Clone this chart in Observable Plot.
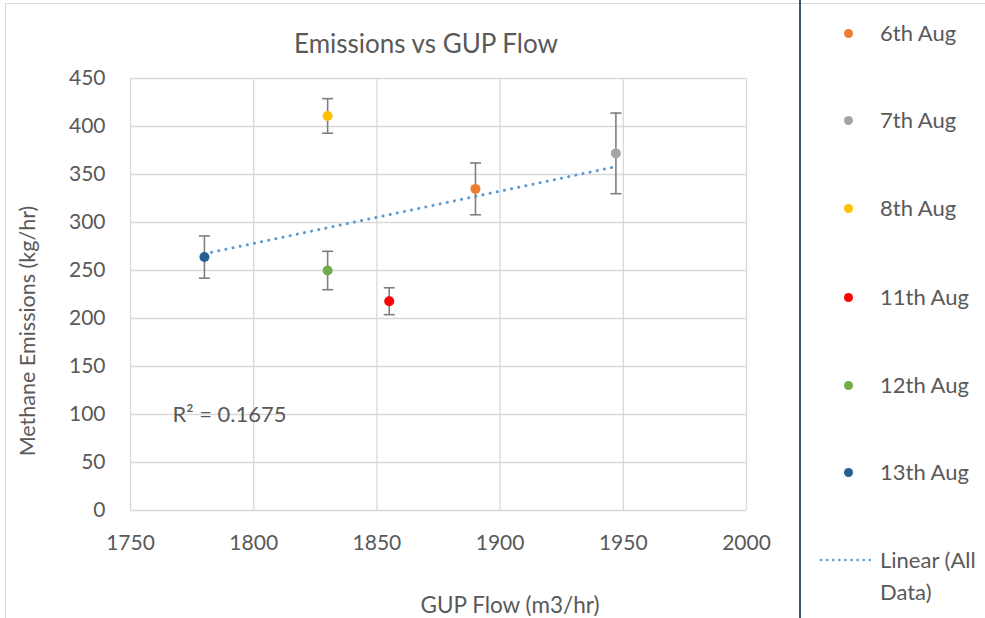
<!DOCTYPE html>
<html>
<head>
<meta charset="utf-8">
<script src="https://cdn.jsdelivr.net/npm/d3@7"></script>
<script src="https://cdn.jsdelivr.net/npm/@observablehq/plot@0.6"></script>
<style>
  html, body { margin: 0; padding: 0; background: white; }
  #wrap { position: relative; width: 985px; height: 618px; font-family: Lato, "Open Sans", sans-serif; color: #595959; overflow: hidden; }
  #chart { position: absolute; left: 0; top: 0; }
  .abs { position: absolute; white-space: nowrap; }
  #border { position: absolute; left: 5px; top: 3px; width: 990px; height: 700px; border: 1px solid #d9d9d9; box-sizing: border-box; }
  #sep { position: absolute; left: 799px; top: 0; width: 1.5px; height: 618px; background: #44546a; }
  .leg { position: absolute; left: 880px; font-size: 22px; line-height: 26px; transform: translateY(-50%); white-space: nowrap; }
</style>
</head>
<body>
<div id="wrap">
  <div id="border"></div>
  <div id="chart"></div>
  <div id="sep"></div>
</div>
<script>
const dates = ["6th Aug", "7th Aug", "8th Aug", "11th Aug", "12th Aug", "13th Aug"];
const flow = [1890, 1947, 1830, 1855, 1830, 1780];
const emissions = [335, 372, 411, 218, 250, 264];
const errors = [27, 42, 18, 14, 20, 22];
const colors = ["#ED7D31", "#A5A5A5", "#FFC000", "#FF0000", "#70AD47", "#255E91"];
const xTicks = [1750, 1800, 1850, 1900, 1950, 2000];
const yTicks = [0, 50, 100, 150, 200, 250, 300, 350, 400, 450];
const r2Label = "R² = 0.1675";
const title = "Emissions vs GUP Flow";
const xLabel = "GUP Flow (m3/hr)";
const yLabel = "Methane Emissions (kg/hr)";
const trendLabel = ["Linear (All", "Data)"];

const data = dates.map((d, i) => ({date: d, x: flow[i], y: emissions[i], e: errors[i]}));

const capSymbol = {
  draw(context, size) {
    const w = Math.sqrt(size / Math.PI);
    context.moveTo(-w, 0);
    context.lineTo(w, 0);
  }
};

const chart = Plot.plot({
  width: 985,
  height: 618,
  marginLeft: 130,
  marginRight: 239,
  marginTop: 78,
  marginBottom: 108,
  style: {fontFamily: "Lato, 'Open Sans', sans-serif", fontSize: "21px", color: "#595959", background: "transparent"},
  x: {domain: [1750, 2000], label: null},
  y: {domain: [0, 450], label: null},
  color: {domain: dates, range: colors},
  marks: [
    Plot.gridX(xTicks, {stroke: "#d9d9d9", strokeOpacity: 1, strokeWidth: 1.3}),
    Plot.gridY(yTicks, {stroke: "#d9d9d9", strokeOpacity: 1, strokeWidth: 1.3}),
    Plot.axisX(xTicks, {tickSize: 0, tickPadding: 25, label: null, tickFormat: d3.format("d"), fill: "#595959", fontSize: 21}),
    Plot.axisY(yTicks, {tickSize: 0, tickPadding: 25, label: null, tickFormat: d3.format("d"), fill: "#595959", fontSize: 21}),
    Plot.linearRegressionY(data, {x: "x", y: "y", ci: 0, stroke: "#5B9BD5", strokeWidth: 3, strokeDasharray: "0.1 7.2", strokeLinecap: "round"}),
    Plot.ruleX(data, {x: "x", y1: d => d.y - d.e, y2: d => d.y + d.e, stroke: "#7f7f7f", strokeWidth: 1.6}),
    Plot.dot(data, {x: "x", y: d => d.y - d.e, symbol: capSymbol, r: 5.5, stroke: "#7f7f7f", strokeWidth: 1.6, fill: "none"}),
    Plot.dot(data, {x: "x", y: d => d.y + d.e, symbol: capSymbol, r: 5.5, stroke: "#7f7f7f", strokeWidth: 1.6, fill: "none"}),
    Plot.dot(data, {x: "x", y: "y", fill: "date", r: 5, stroke: "none"}),
    Plot.text([r2Label], {x: 1767, y: 100, text: d => d, textAnchor: "start", fill: "#595959", fontSize: 22})
  ]
});
document.getElementById("chart").appendChild(chart);

const wrap = document.getElementById("wrap");
function addDiv(text, css) {
  const el = document.createElement("div");
  el.className = "abs";
  el.textContent = text;
  Object.assign(el.style, css);
  wrap.appendChild(el);
  return el;
}
addDiv(title, {left: "226px", width: "400px", textAlign: "center", top: "43px", transform: "translateY(-50%)", fontSize: "26px"});
addDiv(xLabel, {left: "310px", width: "400px", textAlign: "center", top: "604px", transform: "translateY(-50%)", fontSize: "22.5px"});
addDiv(yLabel, {left: "27px", top: "331px", transform: "translate(-50%,-50%) rotate(-90deg)", fontSize: "21.5px"});

// legend
const rowY = [33, 120, 208, 297, 385, 472];
dates.forEach((d, i) => {
  const dot = document.createElement("div");
  Object.assign(dot.style, {position: "absolute", left: (848 - 4.5) + "px", top: (rowY[i] - 4.5) + "px", width: "9px", height: "9px", borderRadius: "50%", background: colors[i]});
  wrap.appendChild(dot);
  const t = document.createElement("div");
  t.className = "leg";
  t.style.top = rowY[i] + "px";
  t.textContent = d;
  wrap.appendChild(t);
});
const ns = "http://www.w3.org/2000/svg";
const ls = document.createElementNS(ns, "svg");
ls.setAttribute("width", "60"); ls.setAttribute("height", "10");
Object.assign(ls.style, {position: "absolute", left: "815px", top: "555px"});
const ln = document.createElementNS(ns, "line");
ln.setAttribute("x1", "6"); ln.setAttribute("x2", "55"); ln.setAttribute("y1", "5"); ln.setAttribute("y2", "5");
ln.setAttribute("stroke", "#5B9BD5"); ln.setAttribute("stroke-width", "2.5");
ln.setAttribute("stroke-dasharray", "0.1 6"); ln.setAttribute("stroke-linecap", "round");
ls.appendChild(ln);
wrap.appendChild(ls);
trendLabel.forEach((t, i) => {
  const el = document.createElement("div");
  el.className = "leg";
  el.style.top = (560 + i * 32) + "px";
  el.textContent = t;
  wrap.appendChild(el);
});
</script>
</body>
</html>
